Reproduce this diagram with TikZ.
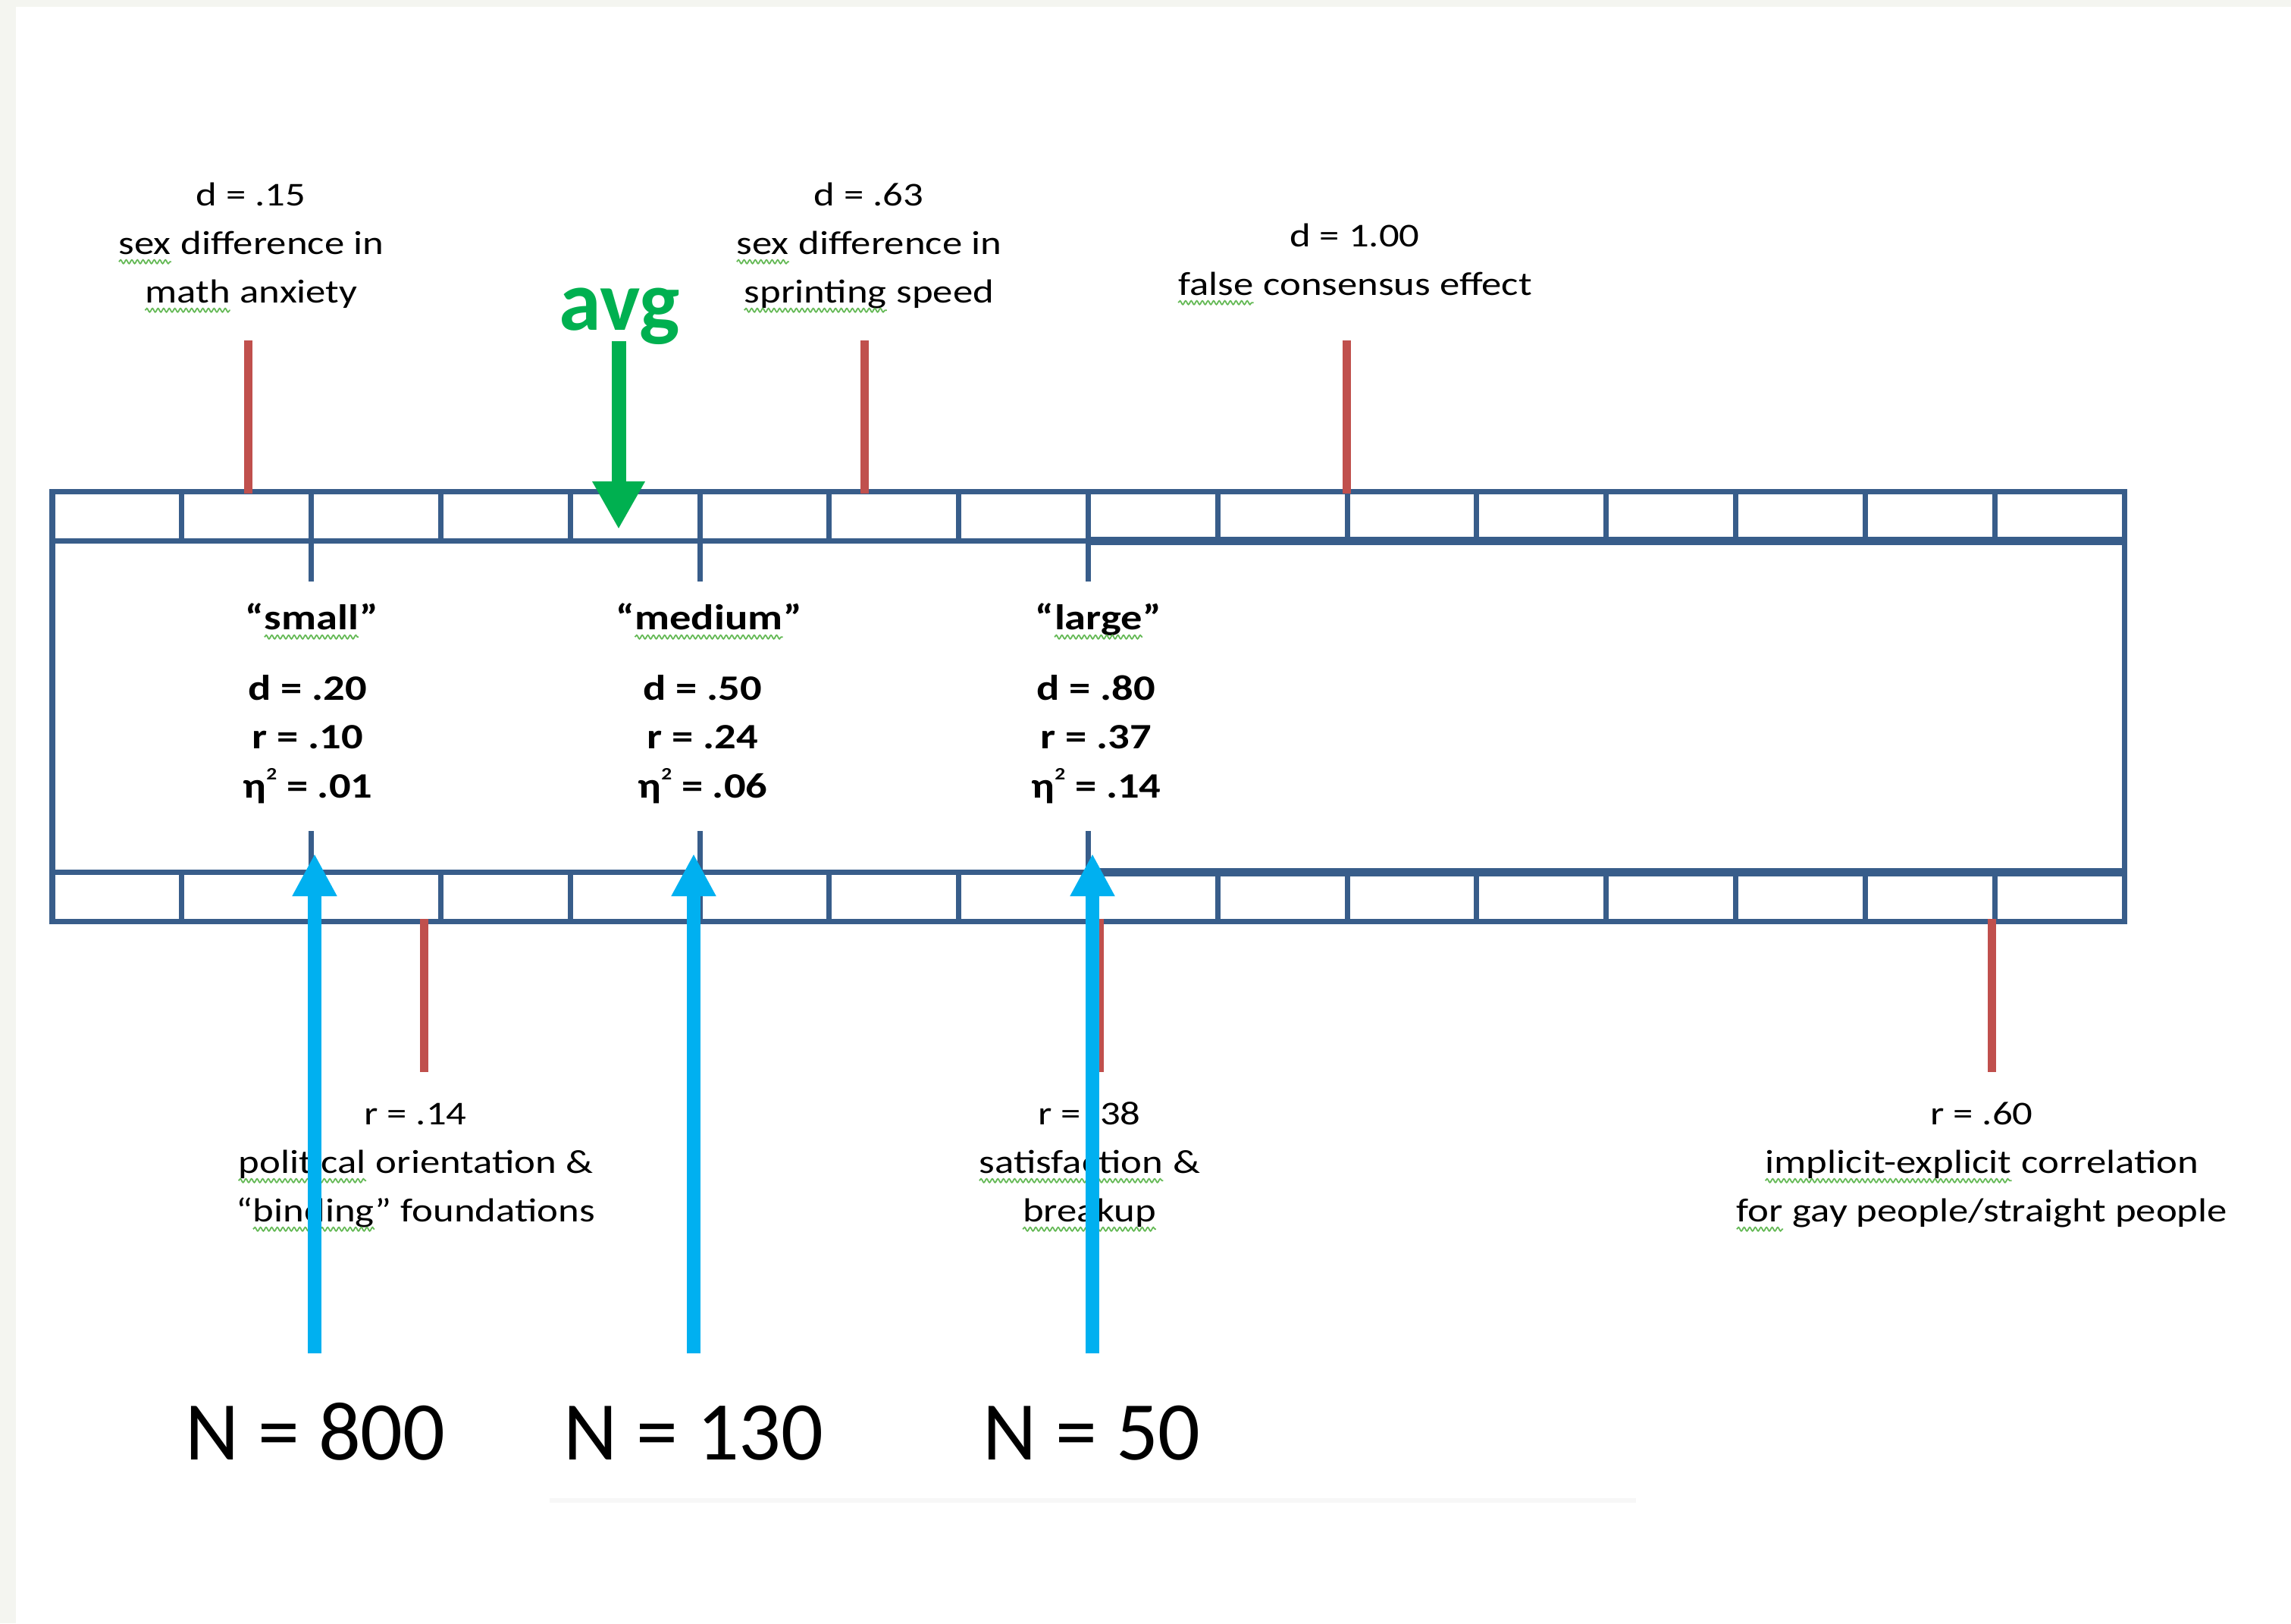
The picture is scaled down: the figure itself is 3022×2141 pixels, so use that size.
\documentclass[tikz,border=0pt]{standalone}
\usepackage{fontspec}
\setmainfont{Carlito}
\newfontfamily\lblfont{Carlito}[FakeStretch=1.2]
\usetikzlibrary{arrows.meta,decorations.pathmorphing}

\definecolor{rulerblue}{RGB}{56,93,138}
\definecolor{markred}{RGB}{192,80,77}
\definecolor{avggreen}{RGB}{0,176,80}
\definecolor{nblue}{RGB}{0,176,240}
\definecolor{sqgreen}{RGB}{100,185,85}
\definecolor{pagegray}{RGB}{244,245,240}
\definecolor{faintgray}{RGB}{247,247,247}

\tikzset{
  squiggle/.style={draw=sqgreen, line width=0.5pt, decorate,
    decoration={snake, segment length=2.1pt, amplitude=0.7pt}},
  ruler/.style={draw=rulerblue, line width=0.07cm},
  rulerheavy/.style={draw=rulerblue, line width=0.11cm},
  redmark/.style={draw=markred, line width=0.11cm},
  avgarrow/.style={draw=avggreen, line width=0.19cm,
    -{Triangle[width=0.65cm,length=0.63cm]}},
  narrow/.style={draw=nblue, line width=0.18cm,
    -{Triangle[width=0.55cm,length=0.56cm]}},
  lbl/.style={font=\lblfont\fontsize{12.5pt}{18.2pt}\selectfont,
    inner sep=0pt, anchor=base},
  sizelbl/.style={font=\lblfont\bfseries\fontsize{13.4pt}{18.35pt}\selectfont,
    inner sep=0pt, anchor=base},
  nlbl/.style={font=\fontsize{31.3pt}{37pt}\selectfont, inner sep=0pt, anchor=base},
  avglbl/.style={font=\bfseries\fontsize{32pt}{38pt}\selectfont, text=avggreen,
    inner sep=0pt, anchor=base},
}

% word with a wavy proofing underline
\newcommand\sqw[1]{\tikz[baseline=(sqw.base)]{\node[inner sep=0pt,outer sep=0pt](sqw){#1};%
  \draw[squiggle]([yshift=-2.9pt]sqw.base west)--([yshift=-2.9pt]sqw.base east);}}
% centred multi-line block whose baseline is the first line
\newcommand\stack[1]{\begin{tabular}[t]{@{}c@{}}#1\end{tabular}}
% eta squared with a small raised 2
\newcommand\etasq{η\raisebox{6.8pt}{\fontsize{6.5pt}{6.5pt}\selectfont 2}}

\begin{document}
\begin{tikzpicture}[x=0.01cm, y=-0.01cm]
  % page
  \fill[pagegray] (0,0) rectangle (3022,2141);
  \fill[white] (21,9) rectangle (3022,2141);
  \useasboundingbox (0,0) rectangle (3022,2141);
  \draw[faintgray, line width=0.06cm] (725,1979) -- (2158,1979);

  % effect-size ruler: 16 cells of d = .10
  \draw[ruler] (69,648) rectangle (2802,1215);
  \draw[ruler] (69,713) -- (2802,713);
  \draw[ruler] (69,1150) -- (2802,1150);
  \draw[rulerheavy] (1435,713) -- (2802,713);
  \draw[rulerheavy] (1435,1150) -- (2802,1150);
  \foreach \k in {1,...,15} {
    \draw[ruler] ({69+170.8*\k},648) -- ({69+170.8*\k},713);
    \draw[ruler] ({69+170.8*\k},1150) -- ({69+170.8*\k},1215);
  }
  \foreach \k in {2,5,8} {
    \draw[ruler] ({69+170.8*\k},713) -- ({69+170.8*\k},767);
    \draw[ruler] ({69+170.8*\k},1096) -- ({69+170.8*\k},1150);
  }

  % benchmark labels inside the ruler
  \node[sizelbl] (small) at (411,830) {“\sqw{small}”};
  \node[sizelbl] (medium) at (935,830) {“\sqw{medium}”};
  \node[sizelbl] (large) at (1449,830) {“\sqw{large}”};
  \node[sizelbl] (smallval) at (406,923) {\stack{d = .20\\ r = .10\\ \etasq{} = .01}};
  \node[sizelbl] (mediumval) at (927,923) {\stack{d = .50\\ r = .24\\ \etasq{} = .06}};
  \node[sizelbl] (largeval) at (1446,923) {\stack{d = .80\\ r = .37\\ \etasq{} = .14}};

  % findings above the ruler
  \node[lbl] (mathanx) at (331,271) {\stack{d = .15\\ \sqw{sex} difference in\\ \sqw{math} anxiety}};
  \node[lbl] (sprint) at (1146,271) {\stack{d = .63\\ \sqw{sex} difference in\\ \sqw{sprinting} speed}};
  \node[lbl] (falsecons) at (1787,325) {\stack{d = 1.00\\ \sqw{false} consensus effect}};

  \coordinate (mathanx-top) at (327,449);   \coordinate (mathanx-end) at (327,651);
  \coordinate (sprint-top) at (1140,449);   \coordinate (sprint-end) at (1140,651);
  \coordinate (falsecons-top) at (1776,449); \coordinate (falsecons-end) at (1776,651);
  \draw[redmark] (mathanx-top) -- (mathanx-end);
  \draw[redmark] (sprint-top) -- (sprint-end);
  \draw[redmark] (falsecons-top) -- (falsecons-end);

  % findings below the ruler
  \node[lbl] (political) at (548,1483) {\stack{r = .14\\ \sqw{political} orientation \&\\ “\sqw{binding}” foundations}};
  \node[lbl] (breakup) at (1437,1483) {\stack{r = .38\\ \sqw{satisfaction} \&\\ \sqw{breakup}}};
  \node[lbl] (implicit) at (2614,1483) {\stack{r = .60\\ \sqw{implicit-explicit} correlation\\ \sqw{for} gay people/straight people}};

  \coordinate (political-top) at (559,1212);  \coordinate (political-end) at (559,1414);
  \coordinate (breakup-top) at (1450,1212);   \coordinate (breakup-end) at (1450,1414);
  \coordinate (implicit-top) at (2627,1212);  \coordinate (implicit-end) at (2627,1414);
  \draw[redmark] (political-top) -- (political-end);
  \draw[redmark] (breakup-top) -- (breakup-end);
  \draw[redmark] (implicit-top) -- (implicit-end);

  % average effect
  \node[avglbl] (avg) at (817,435) {avg};
  \coordinate (avg-tail) at (816,450);
  \coordinate (avg-tip) at (816,698);
  \draw[avgarrow] (avg-tail) -- (avg-tip);

  % sample sizes needed
  \node[nlbl] (n800) at (416,1925) {N = 800};
  \node[nlbl] (n130) at (915,1925) {N = 130};
  \node[nlbl] (n50) at (1440,1925) {N = 50};
  \coordinate (n800-tail) at (415,1785); \coordinate (n800-tip) at (415,1126);
  \coordinate (n130-tail) at (915,1785); \coordinate (n130-tip) at (915,1126);
  \coordinate (n50-tail) at (1441,1785); \coordinate (n50-tip) at (1441,1126);
  \draw[narrow] (n800-tail) -- (n800-tip);
  \draw[narrow] (n130-tail) -- (n130-tip);
  \draw[narrow] (n50-tail) -- (n50-tip);
\end{tikzpicture}
\end{document}
